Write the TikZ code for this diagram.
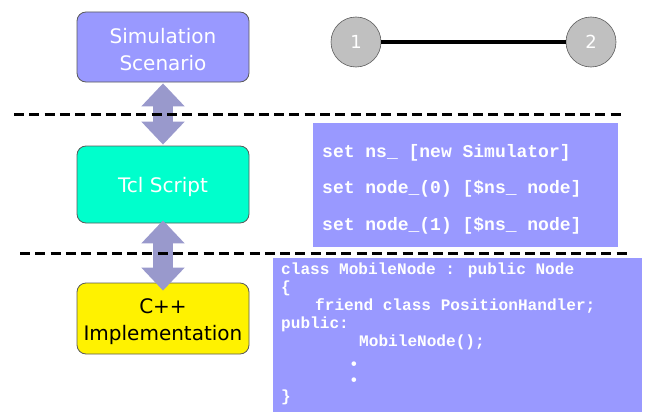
\documentclass[tikz,border=0pt]{standalone}
\usepackage{fontspec}
\setmainfont{DejaVu Sans}
\newfontfamily\codefont{Liberation Mono}
\usetikzlibrary{arrows.meta}

\definecolor{periwinkle}{RGB}{153,153,255}
\definecolor{aquagreen}{RGB}{0,255,204}
\definecolor{linkarrow}{RGB}{153,153,204}
\definecolor{hostgray}{RGB}{192,192,192}
\definecolor{edgegray}{RGB}{90,90,90}

\begin{document}
\begin{tikzpicture}[x=1pt,y=-1pt,
  layer/.style={draw=edgegray, line width=0.8pt, rounded corners=9pt,
    minimum width=172pt, inner sep=0pt, align=center,
    font=\fontsize{20}{27}\selectfont},
  host/.style={circle, draw=edgegray, line width=0.6pt, fill=hostgray,
    minimum size=50pt, inner sep=0pt, text=white,
    font=\fontsize{18}{20}\selectfont},
  codebox/.style={fill=periwinkle, inner sep=0pt, anchor=north west},
  tclline/.style={anchor=base west, inner sep=0pt, text=white,
    font=\codefont\bfseries\fontsize{18}{20}\selectfont},
  cppline/.style={anchor=base west, inner sep=0pt, text=white,
    font=\codefont\bfseries\fontsize{16.1}{18}\selectfont},
  updown/.style={draw=linkarrow, line width=20pt,
    {Triangle[width=42pt,length=23pt]}-{Triangle[width=42pt,length=23pt]}},
  separator/.style={line width=3pt, dash pattern=on 10pt off 5.3pt}
]
\useasboundingbox (0,0) rectangle (645,412);

% layer boxes
\node[layer, fill=periwinkle, text=white, minimum height=70pt] (scen) at (163,47) {\rule{0pt}{21pt}Simulation\\Scenario};
\node[layer, fill=aquagreen, text=white, minimum height=77pt] (tcl) at (163,184.5) {\rule{0pt}{21pt}Tcl Script};
\node[layer, fill=yellow, text=black, minimum height=71pt] (cpp) at (163,318.5) {\rule{0pt}{21pt}C++\\Implementation};

% two-node topology
\node[host] (n1) at (356,42) {1};
\node[host] (n2) at (591,42) {2};
\draw[line width=4pt] (n1) -- (n2);

% layer interaction arrows (yshift acts on the canvas, so negative is down)
\coordinate (a1top) at ([yshift=-1pt]scen.south);
\coordinate (a1bot) at ([yshift=1pt]tcl.north);
\coordinate (a2top) at ([yshift=3pt]tcl.south);
\coordinate (a2bot) at ([yshift=-8pt]cpp.north);
\draw[updown] (a1top) -- (a1bot);
\draw[updown] (a2top) -- (a2bot);

% layer separators
\coordinate (s1l) at (14,114);
\coordinate (s1r) at (625,114);
\coordinate (s2l) at (20,253);
\coordinate (s2r) at (631,253);
\draw[separator] (s1l) -- (s1r);
\draw[separator] (s2l) -- (s2r);

% Tcl script listing
\node[codebox, minimum width=305pt, minimum height=124pt] (tclcode) at (313,123) {};
\node[tclline] (t1) at (322,157) {set ns\_ [new Simulator]};
\node[tclline] (t2) at (322,193.5) {set node\_(0) [\$ns\_ node]};
\node[tclline] (t3) at (322,230) {set node\_(1) [\$ns\_ node]};

% C++ listing
\node[codebox, minimum width=369pt, minimum height=160pt] (cppcode) at (273,258) {};
\node[cppline] (c1) at (281,274) {class MobileNode : public Node};
\node[cppline] (c2) at (281,292.2) {\{};
\node[cppline] (c3) at (315,310.4) {friend class PositionHandler;};
\node[cppline] (c4) at (281,328.6) {public:};
\node[cppline] (c5) at (359,346.8) {MobileNode();};
\node[cppline] (c6) at (349,369.5) {•};
\node[cppline] (c7) at (349,385.5) {•};
\node[cppline] (c8) at (281,401) {\}};
\end{tikzpicture}
\end{document}
